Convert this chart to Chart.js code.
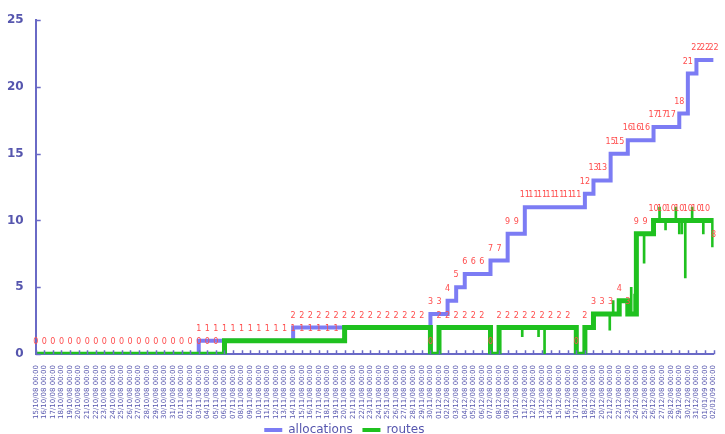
<!DOCTYPE html>
<html lang="en">
  <head>
    <meta name="viewport" content="width=device-width, initial-scale=1.0" />
    <title>Allocations and routes</title>
    <style>
      * {
        padding: 0;
        margin: 0;
        box-sizing: border-box;
      }
      body {
        background: #ffffff;
      }
      .wrapper {
        position: relative;
        width: 725px;
        height: 434px;
      }
    </style>
  </head>
  <body>
    <div class="wrapper">
      <canvas id="chart" width="725" height="434"></canvas>
    </div>
    <script src="https://cdn.jsdelivr.net/npm/chart.js@4/dist/chart.umd.min.js"></script>
    <script>
      // x axis tick labels (one per sample)
      const dateLabels = [
        "15/10/08 00:00", "16/10/08 00:00", "17/10/08 00:00", "18/10/08 00:00", "19/10/08 00:00",
        "20/10/08 00:00", "21/10/08 00:00", "22/10/08 00:00", "23/10/08 00:00", "24/10/08 00:00",
        "25/10/08 00:00", "26/10/08 00:00", "27/10/08 00:00", "28/10/08 00:00", "29/10/08 00:00",
        "30/10/08 00:00", "31/10/08 00:00", "01/11/08 00:00", "02/11/08 00:00", "03/11/08 00:00",
        "04/11/08 00:00", "05/11/08 00:00", "06/11/08 00:00", "07/11/08 00:00", "08/11/08 00:00",
        "09/11/08 00:00", "10/11/08 00:00", "11/11/08 00:00", "12/11/08 00:00", "13/11/08 00:00",
        "14/11/08 00:00", "15/11/08 00:00", "16/11/08 00:00", "17/11/08 00:00", "18/11/08 00:00",
        "19/11/08 00:00", "20/11/08 00:00", "21/11/08 00:00", "22/11/08 00:00", "23/11/08 00:00",
        "24/11/08 00:00", "25/11/08 00:00", "26/11/08 00:00", "27/11/08 00:00", "28/11/08 00:00",
        "29/11/08 00:00", "30/11/08 00:00", "01/12/08 00:00", "02/12/08 00:00", "03/12/08 00:00",
        "04/12/08 00:00", "05/12/08 00:00", "06/12/08 00:00", "07/12/08 00:00", "08/12/08 00:00",
        "09/12/08 00:00", "10/12/08 00:00", "11/12/08 00:00", "12/12/08 00:00", "13/12/08 00:00",
        "14/12/08 00:00", "15/12/08 00:00", "16/12/08 00:00", "17/12/08 00:00", "18/12/08 00:00",
        "19/12/08 00:00", "20/12/08 00:00", "21/12/08 00:00", "22/12/08 00:00", "23/12/08 00:00",
        "24/12/08 00:00", "25/12/08 00:00", "26/12/08 00:00", "27/12/08 00:00", "28/12/08 00:00",
        "29/12/08 00:00", "30/12/08 00:00", "31/12/08 00:00", "01/01/09 00:00", "02/01/09 00:00",
      ];

      const allocations = [
        0, 0, 0, 0, 0, 0, 0, 0, 0, 0, 0, 0, 0, 0, 0, 0, 0, 0, 0,
        1, 1, 1, 1, 1, 1, 1, 1, 1, 1, 1,
        2, 2, 2, 2, 2, 2, 2, 2, 2, 2, 2, 2, 2, 2, 2, 2,
        3, 3, 4, 5, 6, 6, 6, 7, 7, 9, 9,
        11, 11, 11, 11, 11, 11, 11, 12, 13, 13, 15, 15,
        16, 16, 16, 17, 17, 17, 18, 21, 22, 22, 22,
      ];

      const routes = [
        0, 0, 0, 0, 0, 0, 0, 0, 0, 0, 0, 0, 0, 0, 0, 0, 0, 0, 0, 0, 0, 0,
        1, 1, 1, 1, 1, 1, 1, 1, 1, 1, 1, 1, 1, 1,
        2, 2, 2, 2, 2, 2, 2, 2, 2, 2, 0, 2, 2, 2, 2, 2, 2, 0,
        2, 2, 2, 2, 2, 2, 2, 2, 2, 0, 2,
        3, 3, 3, 4, 3, 9, 9, 10, 10, 10, 10, 10, 10, 10, 8,
      ];

      // short dips / peaks of the routes count between samples
      const spikeAt = [56.7, 58.6, 59.3, 66.9, 67.3, 69.4, 69.8, 70.9, 72.7, 73.4, 74.6, 75.0, 75.3, 75.7, 76.5, 77.8];
      const spikeLow = [1.3, 1.3, 0, 1.8, 3, 3, 3, 6.8, 10, 9.3, 10, 9, 9, 5.7, 10, 9];
      const spikeHigh = [2, 2, 2, 3, 4, 5, 4.5, 9, 11, 10, 11, 10, 10, 10, 11, 10];

      const axisColor = "#6a6ac6";
      const textColor = "#5656ae";
      const blue = "#7c7cf4";
      const green = "#1fc11f";

      // red value labels above every point + inward tick marks
      const decorations = {
        id: "decorations",
        afterDatasetsDraw(chart) {
          const ctx = chart.ctx;
          const xs = chart.scales.x;
          const ys = chart.scales.y;
          ctx.save();
          ctx.font = "8px 'DejaVu Sans'";
          ctx.fillStyle = "#ff4d4d";
          ctx.textAlign = "center";
          ctx.textBaseline = "middle";
          [allocations, routes].forEach((series, s) => {
            series.forEach((v, i) => {
              if (s === 1 && allocations[i] === v) return;
              ctx.fillText(String(v), xs.getPixelForValue(i), ys.getPixelForValue(v) - 12);
            });
          });
          ctx.restore();
        },
        afterDraw(chart) {
          const ctx = chart.ctx;
          const xs = chart.scales.x;
          const ys = chart.scales.y;
          const area = chart.chartArea;
          ctx.save();
          ctx.strokeStyle = axisColor;
          ctx.lineWidth = 1.5;
          ctx.beginPath();
          dateLabels.forEach((_, i) => {
            const px = Math.round(xs.getPixelForValue(i)) + 0.5;
            ctx.moveTo(px, area.bottom);
            ctx.lineTo(px, area.bottom - 4);
          });
          for (let v = 0; v <= 25; v += 5) {
            const py = Math.round(ys.getPixelForValue(v)) + 0.5;
            ctx.moveTo(area.left, py);
            ctx.lineTo(area.left + 5, py);
          }
          ctx.stroke();
          ctx.restore();
        },
      };

      new Chart(document.getElementById("chart"), {
        data: {
          datasets: [
            {
              type: "line",
              label: "allocations",
              data: allocations.map((v, i) => ({ x: i, y: v })),
              borderColor: blue,
              backgroundColor: blue,
              borderWidth: 4,
              stepped: true,
              pointRadius: 0,
              order: 3,
            },
            {
              type: "line",
              label: "routes",
              data: routes.map((v, i) => ({ x: i, y: v })),
              borderColor: green,
              backgroundColor: green,
              borderWidth: 5,
              stepped: true,
              pointRadius: 0,
              order: 1,
            },
            {
              type: "bar",
              label: "routes detail",
              data: spikeAt.map((x, i) => ({ x: x, y: [spikeLow[i], spikeHigh[i]] })),
              backgroundColor: green,
              barThickness: 2,
              grouped: false,
              order: 2,
            },
          ],
        },
        options: {
          responsive: false,
          animation: false,
          layout: { padding: { left: 3, right: 5, top: 20, bottom: -12 } },
          plugins: {
            tooltip: { enabled: false },
            legend: {
              position: "bottom",
              labels: {
                // trailing blanks: item gap, and the pair sits a little left of centre
                generateLabels: (chart) =>
                  Chart.defaults.plugins.legend.labels
                    .generateLabels(chart)
                    .filter((item) => item.text !== "routes detail")
                    .sort((a, b) => a.datasetIndex - b.datasetIndex)
                    .map((item) => {
                      item.lineWidth = 0;
                      item.text += item.text === "routes" ? "         " : "  ";
                      return item;
                    }),
                boxWidth: 18,
                boxHeight: 4,
                color: textColor,
                font: { family: "'DejaVu Sans'", size: 12 },
                padding: 2,
              },
            },
          },
          scales: {
            x: {
              type: "linear",
              min: 0,
              max: dateLabels.length - 1,
              offset: false,
              grid: { display: false },
              border: { color: axisColor, width: 2 },
              ticks: {
                stepSize: 1,
                autoSkip: false,
                maxRotation: 90,
                minRotation: 90,
                padding: 3,
                color: textColor,
                font: { family: "'DejaVu Sans'", size: 7 },
                callback: (v) => dateLabels[v],
              },
            },
            y: {
              min: 0,
              max: 25,
              grid: { display: false },
              border: { color: axisColor, width: 2 },
              ticks: {
                stepSize: 5,
                padding: 4,
                color: textColor,
                font: { family: "'DejaVu Sans'", size: 12, weight: "bold" },
              },
            },
          },
        },
        plugins: [decorations],
      });
    </script>
  </body>
</html>
